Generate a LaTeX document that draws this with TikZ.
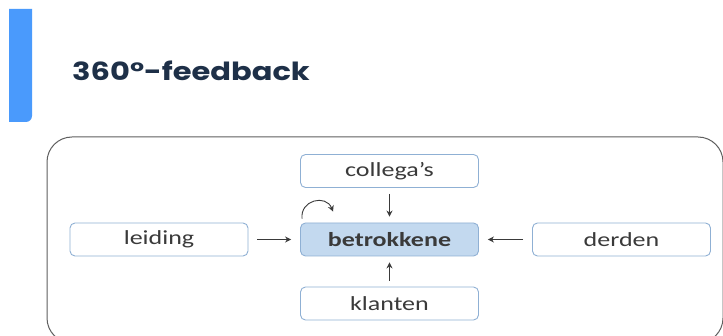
\documentclass[tikz,border=0pt]{standalone}
\usepackage{fontspec}
\setmainfont{Carlito}[FakeStretch=1.3]
\newfontfamily\titlefont{Poppins}
\usetikzlibrary{arrows.meta}
\definecolor{barblue}{HTML}{4A9AFC}
\definecolor{titlenavy}{HTML}{1E3048}
\definecolor{boxborder}{HTML}{8FB0D4}
\definecolor{boxfill}{HTML}{C3D9EF}
\definecolor{txtgray}{HTML}{3A3A3A}
\definecolor{framegray}{HTML}{5F5F5F}
\tikzset{
  box/.style={draw=boxborder, line width=0.9pt, rounded corners=5pt, minimum width=178pt, minimum height=33pt, inner sep=0pt, font=\fontsize{20}{22}\selectfont, text=txtgray},
  conn/.style={draw=txtgray, line width=0.9pt, -{Stealth[length=6pt,width=6pt]}}
}
\begin{document}
\begin{tikzpicture}[x=1pt,y=-1pt]
\useasboundingbox (0,0) rectangle (723,336);
\fill[white] (0,0) rectangle (723,336);
% blue bar
\fill[barblue] (9,9) -- (32,9) -- (32,116) arc[start angle=0,end angle=90,x radius=6pt,y radius=-6pt] -- (9,122) -- cycle;
% title
\node[anchor=west, inner sep=0pt, text=titlenavy, xscale=1.22, font=\titlefont\bfseries\fontsize{25}{27}\selectfont] (title) at (72,71) {360°-feedback};
% frame
\draw[framegray, line width=1pt, rounded corners=25pt] (47,137) rectangle (723,343);
% nodes
\node[box] (leiding) at (159,239.5) {leiding};
\node[box, fill=boxfill, font=\bfseries\fontsize{20}{22}\selectfont] (betr) at (389.5,239.5) {betrokkene};
\node[box] (coll) at (389.5,171) {collega’s};
\node[box] (klant) at (389.5,303.5) {klanten};
\node[box] (derden) at (621.5,239.5) {derden};
% connectors
\draw[conn] ([xshift=9pt]leiding.east) -- ([xshift=-9pt]betr.west);
\draw[conn] ([xshift=-9pt]derden.west) -- ([xshift=9pt]betr.east);
\draw[conn] ([yshift=-6pt]coll.south) -- ([yshift=6pt]betr.north);
\draw[conn] ([yshift=6pt]klant.north) -- ([yshift=-6pt]betr.south);
\coordinate (loopa) at ([xshift=2pt,yshift=4pt]betr.north west);
\coordinate (loopb) at ([xshift=33pt,yshift=11pt]betr.north west);
\draw[conn] (loopa) .. controls (300,200) and (326,194) .. (loopb);
\end{tikzpicture}
\end{document}
